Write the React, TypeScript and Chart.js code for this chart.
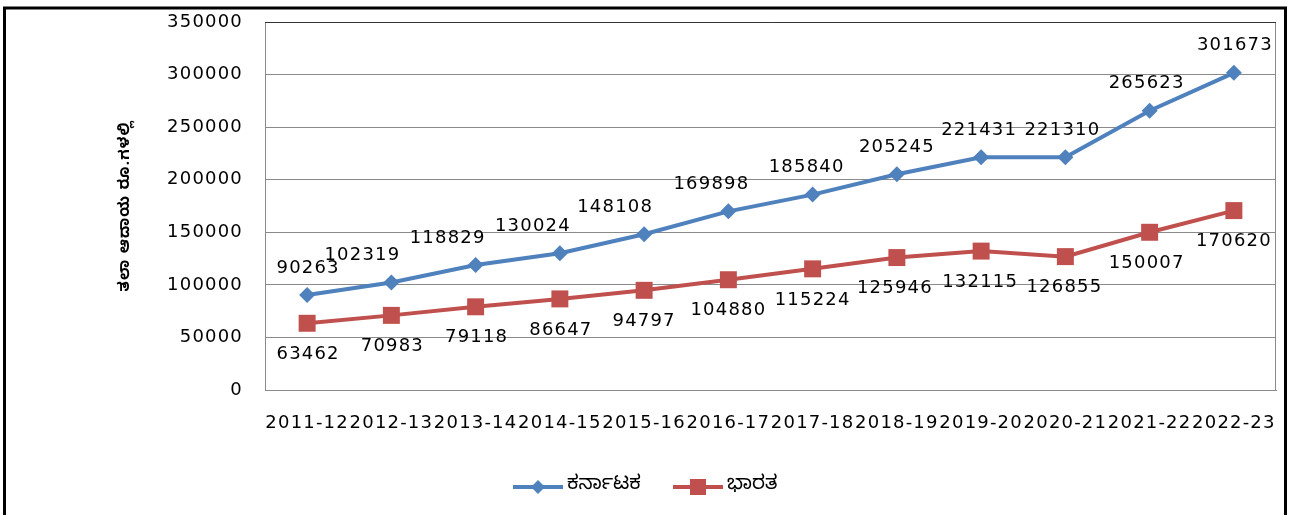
import React, { useEffect, useRef } from "react";
import { Chart, registerables } from "chart.js";

Chart.register(...registerables);

const categories = ["2011-12", "2012-13", "2013-14", "2014-15", "2015-16", "2016-17", "2017-18", "2018-19", "2019-20", "2020-21", "2021-22", "2022-23"];
const karnataka = [90263, 102319, 118829, 130024, 148108, 169898, 185840, 205245, 221431, 221310, 265623, 301673];
const bharata = [63462, 70983, 79118, 86647, 94797, 104880, 115224, 125946, 132115, 126855, 150007, 170620];
const seriesNames = ["ಕರ್ನಾಟಕ", "ಭಾರತ"];
const yTitle = "ತಲಾ ಆದಾಯ ರೂ.ಗಳಲ್ಲಿ";

// label placement styles (pixel offsets from each point)
const kaLabelDx = [1, -29, -28, -27, -29, -17, -6, 0, -2, -3, -3, 1];
const kaLabelDy = -27;
const inLabelDx = [1, 1, 1, 1, 0, 0, 0, -2, -1, -1, -3, 0];
const inLabelDy = 31;

const BLUE = "#4F81BD";
const RED = "#C0504D";
const FONT = "'DejaVu Sans', Verdana, sans-serif";
const KN_FONT = "'Noto Sans Kannada', 'Noto Sans', 'DejaVu Sans', sans-serif";

const spacingPlugin = {
  id: "spacing",
  beforeUpdate(chart: any) { chart.ctx.letterSpacing = "1.2px"; },
  beforeLayout(chart: any) { chart.ctx.letterSpacing = "1.2px"; },
  beforeDraw(chart: any) { chart.ctx.letterSpacing = "1.2px"; },
};

const decorPlugin = {
  id: "decor",
  afterDatasetsDraw(chart: any) {
    const ctx = chart.ctx;
    const { left, top, right, bottom } = chart.chartArea;
    ctx.save();
    ctx.strokeStyle = "#8a8a8a";
    ctx.lineWidth = 1;
    ctx.strokeRect(left + 0.5, top + 0.5, right - left - 1, bottom - top);
    ctx.strokeStyle = "#333";
    ctx.beginPath();
    ctx.moveTo(left, top + 0.5);
    ctx.lineTo(right, top + 0.5);
    ctx.stroke();
    ctx.restore();

    ctx.save();
    ctx.font = "18px " + FONT;
    ctx.fillStyle = "#000";
    ctx.textAlign = "center";
    ctx.textBaseline = "middle";
    const m0 = chart.getDatasetMeta(0);
    m0.data.forEach((p: any, i: number) => {
      ctx.fillText(String(karnataka[i]), p.x + kaLabelDx[i], p.y + kaLabelDy);
    });
    const m1 = chart.getDatasetMeta(1);
    m1.data.forEach((p: any, i: number) => {
      ctx.fillText(String(bharata[i]), p.x + inLabelDx[i], p.y + inLabelDy);
    });
    ctx.restore();
  },
  afterDraw(chart: any) {
    const ctx = chart.ctx;
    ctx.save();
    // outer border
    ctx.strokeStyle = "#000";
    ctx.lineWidth = 3;
    ctx.strokeRect(4.5, 8, 1281, 540);

    // legend
    const ly = 487;
    const items = [
      { x: 513, color: BLUE, shape: "diamond", label: seriesNames[0] },
      { x: 673, color: RED, shape: "square", label: seriesNames[1] },
    ];
    items.forEach((it) => {
      ctx.strokeStyle = it.color;
      ctx.lineWidth = 4;
      ctx.beginPath();
      ctx.moveTo(it.x, ly);
      ctx.lineTo(it.x + 50, ly);
      ctx.stroke();
      ctx.fillStyle = it.color;
      const cx = it.x + 25;
      ctx.beginPath();
      if (it.shape === "diamond") {
        ctx.moveTo(cx, ly - 7);
        ctx.lineTo(cx + 7, ly);
        ctx.lineTo(cx, ly + 7);
        ctx.lineTo(cx - 7, ly);
        ctx.closePath();
      } else {
        ctx.rect(cx - 8, ly - 8, 16, 16);
      }
      ctx.fill();
      ctx.fillStyle = "#000";
      ctx.font = "20px " + KN_FONT;
      ctx.textAlign = "left";
      ctx.textBaseline = "middle";
      ctx.letterSpacing = "0px";
      ctx.fillText(it.label, it.x + 54, ly);
    });
    ctx.restore();
  },
};

export default function App() {
  const ref = useRef<HTMLCanvasElement>(null);
  useEffect(() => {
    if (!ref.current) return;
    const chart = new Chart(ref.current, {
      type: "line",
      data: {
        labels: categories,
        datasets: [
          {
            label: seriesNames[0],
            data: karnataka,
            borderColor: BLUE,
            backgroundColor: BLUE,
            borderWidth: 4,
            pointStyle: "rectRot",
            pointRadius: 8,
            pointHoverRadius: 8,
            pointBorderWidth: 0,
            tension: 0,
          },
          {
            label: seriesNames[1],
            data: bharata,
            borderColor: RED,
            backgroundColor: RED,
            borderWidth: 4,
            pointStyle: "rect",
            pointRadius: 12,
            pointHoverRadius: 12,
            pointBorderWidth: 0,
            tension: 0,
          },
        ],
      },
      options: {
        responsive: false,
        animation: false,
        events: [],
        layout: { padding: { left: 112, right: 19, top: 22, bottom: 0 } },
        plugins: {
          legend: { display: false },
          tooltip: { enabled: false },
        },
        scales: {
          x: {
            offset: true,
            grid: { display: false, drawTicks: false, offset: true },
            border: { display: true, color: "#8a8a8a" },
            ticks: {
              autoSkip: false,
              maxRotation: 0,
              minRotation: 0,
              padding: 23,
              color: "#000",
              font: { family: FONT, size: 18 },
            },
            afterFit(scale: any) {
              scale.height = 125;
              scale.paddingLeft = 0;
              scale.paddingRight = 0;
            },
          },
          y: {
            min: 0,
            max: 350000,
            grid: { color: "#8a8a8a", drawTicks: false },
            border: { display: true, color: "#8a8a8a" },
            ticks: {
              stepSize: 50000,
              padding: 22,
              color: "#000",
              font: { family: FONT, size: 18 },
              callback: (v: any) => String(v),
            },
            title: {
              display: true,
              text: yTitle,
              color: "#000",
              font: { family: KN_FONT, size: 15, weight: "bold" },
              padding: { top: 6, bottom: 0 },
            },
            afterFit(scale: any) {
              scale.width = 153;
              scale.paddingTop = 0;
              scale.paddingBottom = 0;
            },
          },
        },
      },
      plugins: [spacingPlugin, decorPlugin],
    });
    return () => chart.destroy();
  }, []);
  return (
    <div style={{ position: "absolute", left: 0, top: 0, width: 1295, height: 515, background: "#fff" }}>
      <canvas ref={ref} width={1295} height={515} style={{ display: "block", width: 1295, height: 515 }} />
    </div>
  );
}
